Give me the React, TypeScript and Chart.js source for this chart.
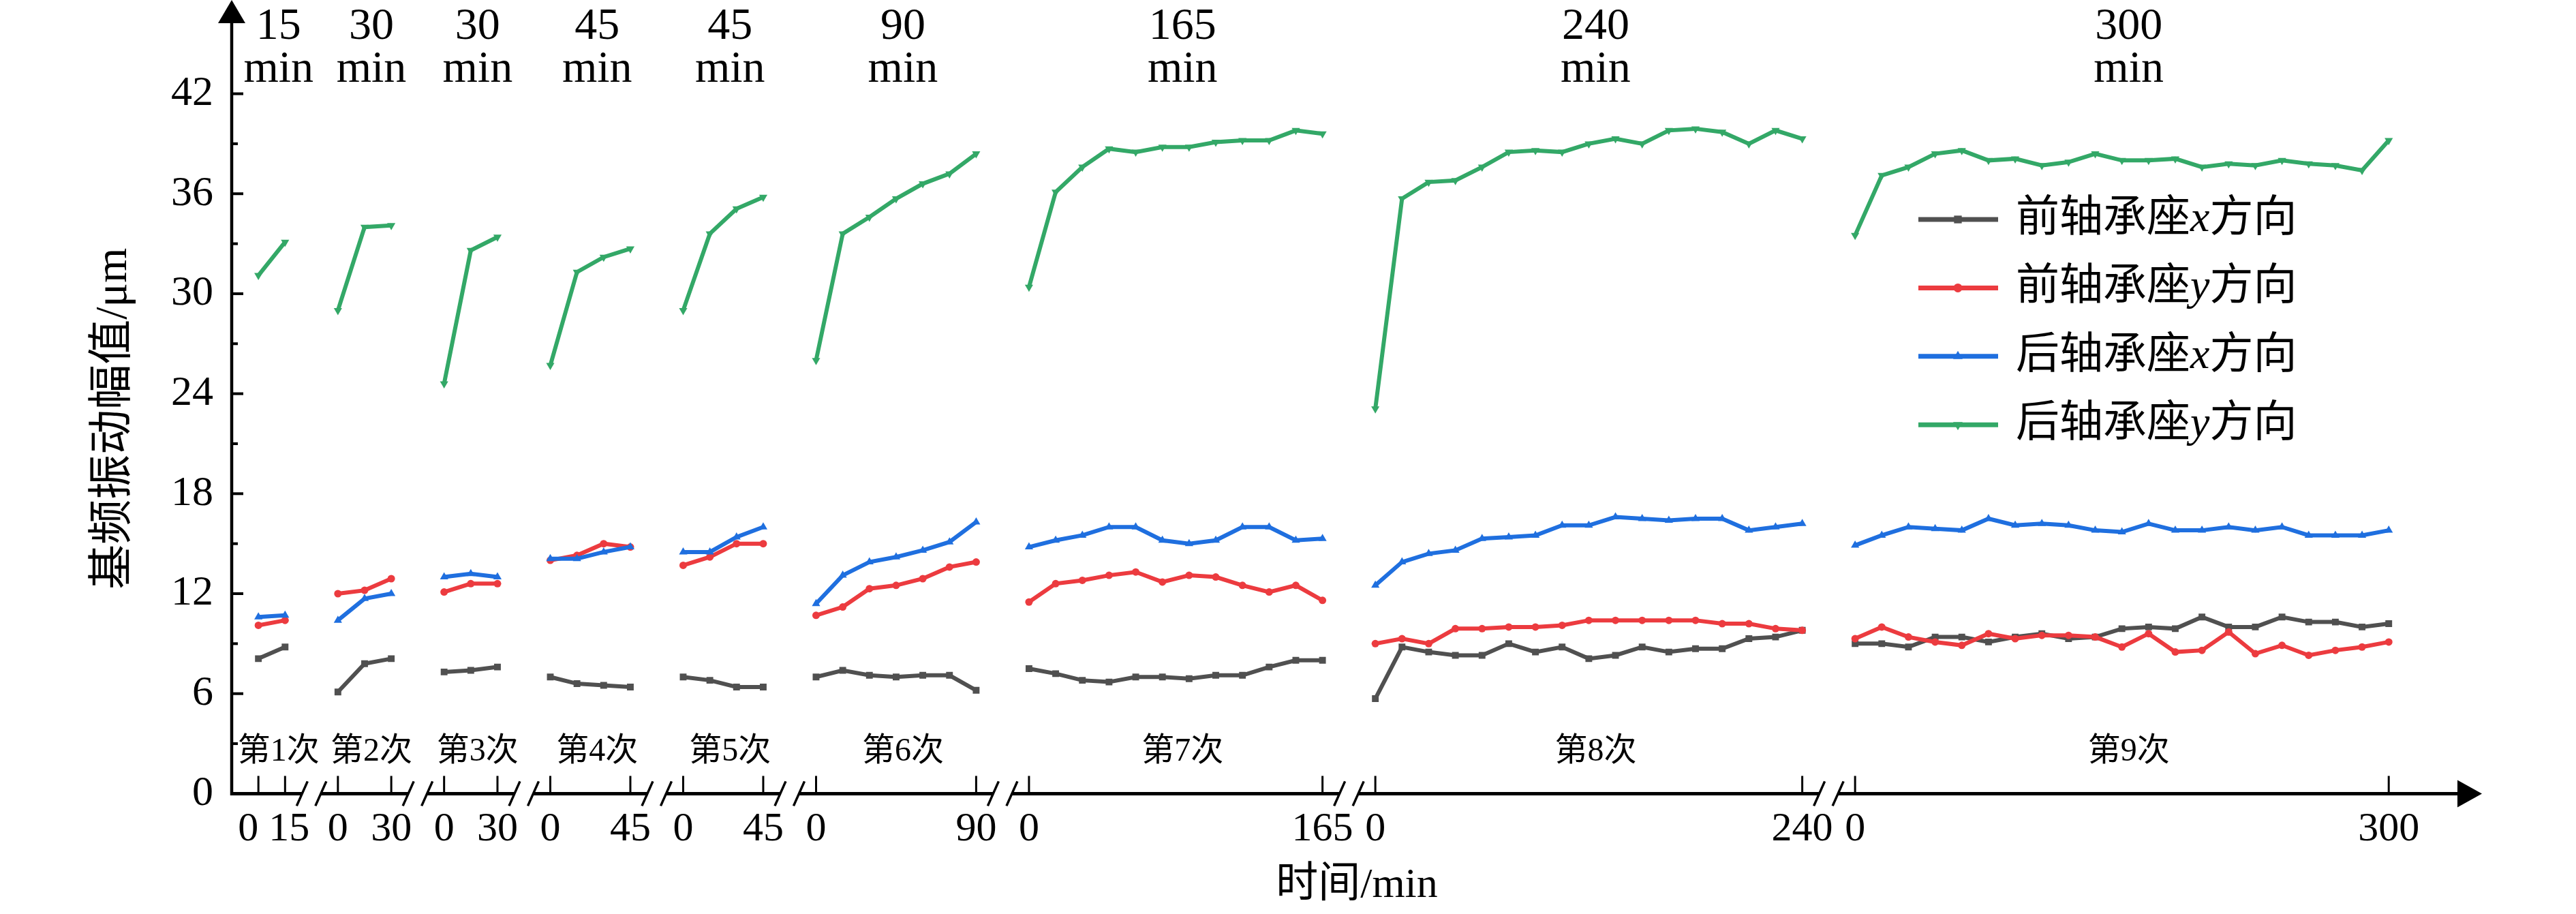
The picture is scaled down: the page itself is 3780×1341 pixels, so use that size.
import React, { useEffect, useRef } from "react";
import { Chart, registerables } from "chart.js";

Chart.register(...registerables);

// ---- data ----
const runNames = ["第1次", "第2次", "第3次", "第4次", "第5次", "第6次", "第7次", "第8次", "第9次"];
const runMinutes = [15, 30, 30, 45, 45, 90, 165, 240, 300];
const sampleStep = 15;
const yTickValues = [0, 6, 12, 18, 24, 30, 36, 42];

const seriesLabels = ["前轴承座x方向", "前轴承座y方向", "后轴承座x方向", "后轴承座y方向"];

// 前轴承座 x
const frontX = [
  [8.1, 8.8],
  [6.1, 7.8, 8.1],
  [7.3, 7.4, 7.6],
  [7.0, 6.6, 6.5, 6.4],
  [7.0, 6.8, 6.4, 6.4],
  [7.0, 7.4, 7.1, 7.0, 7.1, 7.1, 6.2],
  [7.5, 7.2, 6.8, 6.7, 7.0, 7.0, 6.9, 7.1, 7.1, 7.6, 8.0, 8.0],
  [5.7, 8.8, 8.5, 8.3, 8.3, 9.0, 8.5, 8.8, 8.1, 8.3, 8.8, 8.5, 8.7, 8.7, 9.3, 9.4, 9.8],
  [9.0, 9.0, 8.8, 9.4, 9.4, 9.1, 9.4, 9.6, 9.3, 9.4, 9.9, 10.0, 9.9, 10.6, 10.0, 10.0, 10.6, 10.3, 10.3, 10.0, 10.2],
];

// 前轴承座 y
const frontY = [
  [10.1, 10.4],
  [12.0, 12.2, 12.9],
  [12.1, 12.6, 12.6],
  [14.0, 14.3, 15.0, 14.8],
  [13.7, 14.2, 15.0, 15.0],
  [10.7, 11.2, 12.3, 12.5, 12.9, 13.6, 13.9],
  [11.5, 12.6, 12.8, 13.1, 13.3, 12.7, 13.1, 13.0, 12.5, 12.1, 12.5, 11.6],
  [9.0, 9.3, 9.0, 9.9, 9.9, 10.0, 10.0, 10.1, 10.4, 10.4, 10.4, 10.4, 10.4, 10.2, 10.2, 9.9, 9.8],
  [9.3, 10.0, 9.4, 9.1, 8.9, 9.6, 9.3, 9.5, 9.5, 9.4, 8.8, 9.6, 8.5, 8.6, 9.7, 8.4, 8.9, 8.3, 8.6, 8.8, 9.1],
];

// 后轴承座 x
const rearX = [
  [10.6, 10.7],
  [10.4, 11.7, 12.0],
  [13.0, 13.2, 13.0],
  [14.1, 14.1, 14.5, 14.8],
  [14.5, 14.5, 15.4, 16.0],
  [11.4, 13.1, 13.9, 14.2, 14.6, 15.1, 16.3],
  [14.8, 15.2, 15.5, 16.0, 16.0, 15.2, 15.0, 15.2, 16.0, 16.0, 15.2, 15.3],
  [12.5, 13.9, 14.4, 14.6, 15.3, 15.4, 15.5, 16.1, 16.1, 16.6, 16.5, 16.4, 16.5, 16.5, 15.8, 16.0, 16.2],
  [14.9, 15.5, 16.0, 15.9, 15.8, 16.5, 16.1, 16.2, 16.1, 15.8, 15.7, 16.2, 15.8, 15.8, 16.0, 15.8, 16.0, 15.5, 15.5, 15.5, 15.8],
];

// 后轴承座 y
const rearY = [
  [31.1, 33.1],
  [29.0, 34.0, 34.1],
  [24.6, 32.6, 33.4],
  [25.7, 31.3, 32.2, 32.7],
  [29.0, 33.6, 35.1, 35.8],
  [26.0, 33.6, 34.6, 35.7, 36.6, 37.2, 38.4],
  [30.4, 36.1, 37.6, 38.7, 38.5, 38.8, 38.8, 39.1, 39.2, 39.2, 39.8, 39.6],
  [23.1, 35.7, 36.7, 36.8, 37.6, 38.5, 38.6, 38.5, 39.0, 39.3, 39.0, 39.8, 39.9, 39.7, 39.0, 39.8, 39.3],
  [33.5, 37.1, 37.6, 38.4, 38.6, 38.0, 38.1, 37.7, 37.9, 38.4, 38.0, 38.0, 38.1, 37.6, 37.8, 37.7, 38.0, 37.8, 37.7, 37.4, 39.2],
];

// ---- layout of the broken time axis ----
const RUN_GAP = 29.7; // empty minutes between two runs on the shared axis
const X_MIN = -15;
const X_MAX = 1250;

const runStart: number[] = [];
runMinutes.reduce((acc, m, k) => {
  runStart[k] = acc;
  return acc + m + RUN_GAP;
}, 0);

const xTickValues = runStart.flatMap((s, k) => [s, s + runMinutes[k]]);
// first run is short, so its two labels get pushed apart a little with spaces
const xTickText = runMinutes.flatMap((m, k) => (k === 0 ? ["0\u2002", "\u2009" + m] : ["0", String(m)]));

const buildPoints = (runs: number[][]) => {
  const pts: { x: number; y: number | null }[] = [];
  runs.forEach((vals, k) => {
    vals.forEach((v, i) => pts.push({ x: runStart[k] + i * sampleStep, y: v }));
    if (k < runs.length - 1) pts.push({ x: runStart[k] + runMinutes[k] + RUN_GAP / 2, y: null });
  });
  return pts;
};

const SERIF = '"Liberation Serif", "Noto Sans CJK SC", serif';
const colors = ["#505050", "#EC3B3F", "#1F6FDF", "#33A867"];
const markers = [
  { style: "rect", radius: 7, rotation: 0 },
  { style: "circle", radius: 5.5, rotation: 0 },
  { style: "triangle", radius: 7, rotation: 0 },
  { style: "triangle", radius: 7, rotation: 180 },
];

function drawMarker(ctx: CanvasRenderingContext2D, style: string, rotation: number, x: number, y: number, r: number) {
  ctx.beginPath();
  if (style === "rect") {
    const s = r * Math.SQRT1_2;
    ctx.rect(x - s, y - s, 2 * s, 2 * s);
  } else if (style === "circle") {
    ctx.arc(x, y, r, 0, Math.PI * 2);
  } else {
    const d = rotation === 180 ? -1 : 1;
    ctx.moveTo(x, y - d * r);
    ctx.lineTo(x - r * 0.87, y + d * r * 0.5);
    ctx.lineTo(x + r * 0.87, y + d * r * 0.5);
    ctx.closePath();
  }
  ctx.fill();
}

// text with latin letters in italic (x / y in the legend)
function drawRich(ctx: CanvasRenderingContext2D, text: string, x: number, y: number, size: number) {
  let cx = x;
  for (const ch of text) {
    ctx.font = /[a-z]/i.test(ch) ? `italic ${size}px "Liberation Serif"` : `${size}px ${SERIF}`;
    ctx.fillText(ch, cx, y);
    cx += ctx.measureText(ch).width;
  }
}

const decorPlugin = {
  id: "decor",
  afterDraw(chart: any) {
    const { ctx, chartArea, scales } = chart;
    const xs = scales.x;
    const ys = scales.y;
    const left = chartArea.left;
    const base = ys.getPixelForValue(0);
    const tip = chartArea.right;
    const last = runMinutes.length - 1;

    const line = (x1: number, y1: number, x2: number, y2: number, w: number) => {
      ctx.lineWidth = w;
      ctx.beginPath();
      ctx.moveTo(x1, y1);
      ctx.lineTo(x2, y2);
      ctx.stroke();
    };

    ctx.save();
    ctx.strokeStyle = "#000";
    ctx.fillStyle = "#000";
    ctx.lineCap = "butt";

    // y axis with arrow
    line(left, base + 2.5, left, 30, 4.5);
    ctx.beginPath();
    ctx.moveTo(left, 0);
    ctx.lineTo(left - 20, 34);
    ctx.lineTo(left + 20, 34);
    ctx.closePath();
    ctx.fill();
    yTickValues.forEach((v) => {
      const y = ys.getPixelForValue(v);
      line(left, y, left + 17, y, 4);
    });
    yTickValues.slice(0, -1).forEach((v) => {
      const y = ys.getPixelForValue(v + 3);
      line(left, y, left + 9, y, 4);
    });

    // broken x axis
    runStart.forEach((s, k) => {
      const a = xs.getPixelForValue(s);
      const b = xs.getPixelForValue(s + runMinutes[k]);
      const from = k === 0 ? left - 2 : a - 25;
      const to = k === last ? tip - 30 : b + 25;
      line(from, base, to, base, 5);
      if (k > 0) line(from - 8, base + 18, from + 8, base - 18, 3.5);
      if (k < last) line(to - 8, base + 18, to + 8, base - 18, 3.5);
      line(a, base, a, base - 26, 3);
      line(b, base, b, base - 26, 3);
    });
    ctx.beginPath();
    ctx.moveTo(tip, base);
    ctx.lineTo(tip - 36, base - 20);
    ctx.lineTo(tip - 36, base + 20);
    ctx.closePath();
    ctx.fill();

    // run durations on top and run names above the axis
    ctx.textAlign = "center";
    runStart.forEach((s, k) => {
      const cx = (xs.getPixelForValue(s) + xs.getPixelForValue(s + runMinutes[k])) / 2 + 10;
      ctx.font = `66px ${SERIF}`;
      ctx.textBaseline = "alphabetic";
      ctx.fillText(String(runMinutes[k]), cx, 57);
      ctx.fillText("min", cx, 120);
      ctx.font = `48px ${SERIF}`;
      ctx.textBaseline = "middle";
      ctx.fillText(runNames[k], cx, base - 61);
    });

    // legend
    ctx.textAlign = "left";
    ctx.textBaseline = "middle";
    seriesLabels.forEach((label, i) => {
      const y = 322 + i * 100.4;
      ctx.strokeStyle = colors[i];
      line(2815, y, 2932, y, 7);
      ctx.fillStyle = colors[i];
      drawMarker(ctx, markers[i].style, markers[i].rotation, 2873, y, markers[i].radius + 1);
      ctx.fillStyle = "#000";
      drawRich(ctx, label, 2958, y, 64);
    });
    ctx.restore();
  },
};

export default function App() {
  const canvasRef = useRef<HTMLCanvasElement | null>(null);

  useEffect(() => {
    if (!canvasRef.current) return;
    const seriesData = [frontX, frontY, rearX, rearY];
    const chart = new Chart(canvasRef.current, {
      type: "line",
      data: {
        datasets: seriesData.map((runs, i) => ({
          label: seriesLabels[i],
          data: buildPoints(runs),
          borderColor: colors[i],
          backgroundColor: colors[i],
          borderWidth: 6,
          pointStyle: markers[i].style,
          pointRotation: markers[i].rotation,
          pointRadius: markers[i].radius,
          pointBorderWidth: 0,
          pointBackgroundColor: colors[i],
          tension: 0,
          spanGaps: false,
          order: 4 - i,
        })),
      },
      options: {
        animation: false,
        responsive: false,
        devicePixelRatio: 1,
        layout: { padding: { left: 0, right: 138, top: 2.5, bottom: 0 } },
        plugins: {
          legend: { display: false },
          tooltip: { enabled: false },
        },
        scales: {
          x: {
            type: "linear",
            min: X_MIN,
            max: X_MAX,
            grid: { display: false, drawTicks: false },
            border: { display: false },
            afterBuildTicks: (axis: any) => {
              axis.ticks = xTickValues.map((value) => ({ value }));
            },
            afterFit: (axis: any) => {
              axis.height = 176.6;
            },
            ticks: {
              autoSkip: false,
              maxRotation: 0,
              padding: 17,
              color: "#000",
              font: { family: SERIF, size: 60 },
              callback: (_v: any, index: number) => xTickText[index] ?? "",
            },
            title: {
              display: true,
              text: "时间/min",
              color: "#000",
              font: { family: SERIF, size: 62 },
              padding: { top: 0, bottom: 4 },
            },
          },
          y: {
            type: "linear",
            min: 0,
            max: 45,
            grid: { display: false, drawTicks: false },
            border: { display: false },
            afterBuildTicks: (axis: any) => {
              axis.ticks = yTickValues.map((value) => ({ value }));
            },
            afterFit: (axis: any) => {
              axis.width = 340;
            },
            ticks: {
              padding: 27,
              color: "#000",
              font: { family: SERIF, size: 62 },
            },
            title: {
              display: true,
              text: "基频振动幅值/μm",
              color: "#000",
              font: { family: SERIF, size: 66 },
              padding: { top: 128, bottom: 0 },
            },
          },
        },
      },
      plugins: [decorPlugin],
    } as any);
    return () => chart.destroy();
  }, []);

  return (
    <div style={{ position: "absolute", left: 0, top: 0, width: 3780, height: 1341, background: "#fff" }}>
      <canvas ref={canvasRef} width={3780} height={1341} style={{ display: "block" }} />
    </div>
  );
}
